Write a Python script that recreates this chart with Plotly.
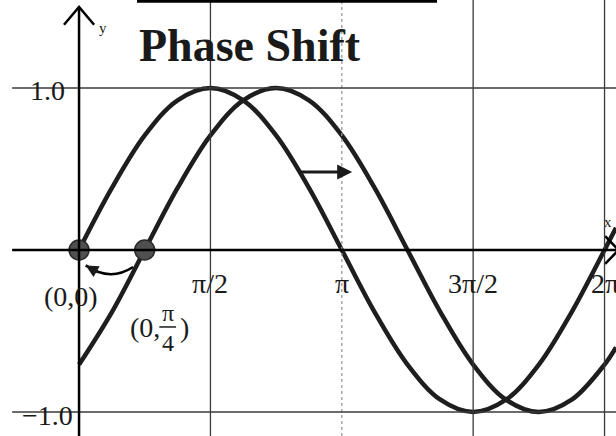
import plotly.graph_objects as go

# ---- data ----
x_vals = [0, 0.393, 0.785, 1.178, 1.571, 1.963, 2.356, 2.749, 3.142, 3.534,
          3.927, 4.320, 4.712, 5.105, 5.498, 5.890, 6.283, 6.42]
sin_vals = [0, 0.383, 0.707, 0.924, 1.0, 0.924, 0.707, 0.383, 0, -0.383,
            -0.707, -0.924, -1.0, -0.924, -0.707, -0.383, 0, 0.137]
shift_vals = [-0.707, -0.383, 0, 0.383, 0.707, 0.924, 1.0, 0.924, 0.707, 0.383,
              0, -0.383, -0.707, -0.924, -1.0, -0.924, -0.707, -0.601]
pt_x = [0, 0.785]
pt_y = [0, 0]
xtick_vals = [1.571, 3.142, 4.712, 6.283]
xtick_text = ["π/2", "π", "3π/2", "2π"]
ytick_vals = [1.0, -1.0]
ytick_text = ["1.0", "−1.0"]
title_text = "Phase Shift"

X0, X1 = -0.945, 6.42
Y0, Y1 = -1.148, 1.543
FONT = "Liberation Serif"

fig = go.Figure()

shapes = []
# vertical grid lines
for i, xv in enumerate(xtick_vals):
    shapes.append(dict(type="line", xref="x", yref="paper", x0=xv, x1=xv, y0=0, y1=1,
                       line=dict(color="#9a9a9a" if i == 1 else "#3a3a3a",
                                 width=1.3, dash="dot" if i == 1 else "solid")))
# horizontal grid lines
for yv in ytick_vals:
    shapes.append(dict(type="line", xref="x", yref="y", x0=-0.8, x1=X1, y0=yv, y1=yv,
                       line=dict(color="#3a3a3a", width=1.5)))
# axes
shapes.append(dict(type="line", xref="x", yref="y", x0=-0.8, x1=X1, y0=0, y1=0,
                   line=dict(color="black", width=2.5)))
shapes.append(dict(type="line", xref="x", yref="y", x0=0, x1=0, y0=Y0, y1=1.5,
                   line=dict(color="black", width=2.5)))
# top bar artifact
shapes.append(dict(type="line", xref="paper", yref="paper", x0=137/616, x1=437/616,
                   y0=0.997, y1=0.997, line=dict(color="black", width=3)))
# curved arrow from shifted point back to origin
shapes.append(dict(type="path", xref="x", yref="y",
                   path="M 0.646,-0.105 Q 0.371,-0.198 0.08,-0.095",
                   line=dict(color="black", width=2.5)))
# fraction bar for pi/4
shapes.append(dict(type="line", xref="x", yref="y", x0=0.96, x1=1.16, y0=-0.475, y1=-0.475,
                   line=dict(color="#1a1a1a", width=1.5)))
fig.update_layout(shapes=shapes)

# curves
fig.add_trace(go.Scatter(x=x_vals, y=sin_vals, mode="lines",
                         line=dict(color="#1e1e1e", width=4.5, shape="spline", smoothing=1.0),
                         hoverinfo="skip"))
fig.add_trace(go.Scatter(x=x_vals, y=shift_vals, mode="lines",
                         line=dict(color="#1e1e1e", width=4.5, shape="spline", smoothing=1.0),
                         hoverinfo="skip"))
# axis arrow chevrons
fig.add_trace(go.Scatter(x=[-0.18, 0, 0.18], y=[1.39, 1.5, 1.39], mode="lines",
                         line=dict(color="black", width=2.5), hoverinfo="skip"))
fig.add_trace(go.Scatter(x=[6.29, 6.45, 6.29], y=[0.085, 0, -0.085], mode="lines",
                         line=dict(color="black", width=2.5), hoverinfo="skip"))
# points
fig.add_trace(go.Scatter(x=pt_x, y=pt_y, mode="markers",
                         marker=dict(size=20, color="#505050",
                                     line=dict(color="#2a2a2a", width=1.5)),
                         hoverinfo="skip"))

ann = []
ann.append(dict(x=2.046, y=1.26, text="<b>" + title_text + "</b>", showarrow=False,
                font=dict(family=FONT, size=46, color="#1a1a1a")))
for xv, t in zip(xtick_vals, xtick_text):
    ann.append(dict(x=xv, y=-0.205, text=t, showarrow=False,
                    font=dict(family=FONT, size=28, color="#1a1a1a")))
ann.append(dict(x=-0.144, y=0.985, text=ytick_text[0], showarrow=False, xanchor="right",
                font=dict(family=FONT, size=28, color="#1a1a1a")))
ann.append(dict(x=-0.048, y=-1.02, text=ytick_text[1], showarrow=False, xanchor="right",
                font=dict(family=FONT, size=28, color="#1a1a1a")))
ann.append(dict(x=0.29, y=1.37, text="y", showarrow=False,
                font=dict(family=FONT, size=15, color="#1a1a1a")))
ann.append(dict(x=6.33, y=0.17, text="x", showarrow=False,
                font=dict(family=FONT, size=15, color="#1a1a1a")))
# point labels
ann.append(dict(x=-0.1, y=-0.284, text="(0,0)", showarrow=False,
                font=dict(family=FONT, size=28, color="#1a1a1a")))
ann.append(dict(x=0.585, y=-0.48, text="(0,", showarrow=False, xanchor="left",
                font=dict(family=FONT, size=28, color="#1a1a1a")))
ann.append(dict(x=1.06, y=-0.39, text="π", showarrow=False,
                font=dict(family=FONT, size=24, color="#1a1a1a")))
ann.append(dict(x=1.06, y=-0.575, text="4", showarrow=False,
                font=dict(family=FONT, size=24, color="#1a1a1a")))
ann.append(dict(x=1.26, y=-0.48, text=")", showarrow=False,
                font=dict(family=FONT, size=28, color="#1a1a1a")))
# arrows
ann.append(dict(x=3.266, y=0.481, ax=-54, ay=0, text="", showarrow=True,
                arrowhead=2, arrowsize=1, arrowwidth=3, arrowcolor="#1a1a1a", standoff=0))
ann.append(dict(x=0.08, y=-0.095, ax=14, ay=8, text="", showarrow=True,
                arrowhead=2, arrowsize=1, arrowwidth=2.5, arrowcolor="#1a1a1a", standoff=0))
fig.update_layout(annotations=ann)

fig.update_layout(
    width=616, height=436,
    margin=dict(l=0, r=0, t=0, b=0),
    paper_bgcolor="white", plot_bgcolor="white",
    showlegend=False,
    xaxis=dict(range=[X0, X1], visible=False, fixedrange=True),
    yaxis=dict(range=[Y0, Y1], visible=False, fixedrange=True),
)

fig.write_html("out.html", config={"displayModeBar": False},
               post_script="document.body.style.margin='0';document.body.style.overflow='hidden';")
